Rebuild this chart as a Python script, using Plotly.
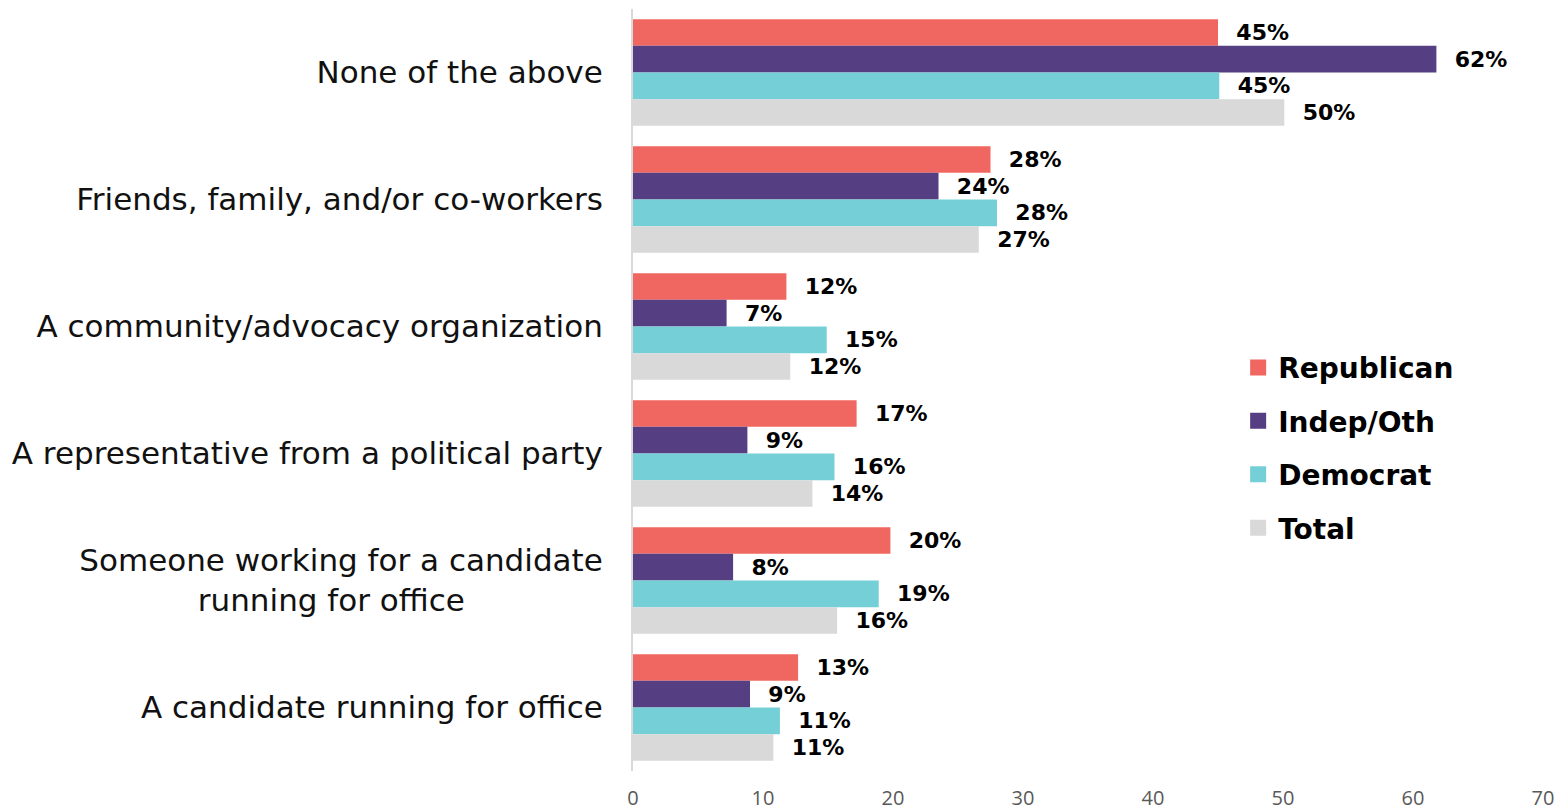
import plotly.graph_objects as go

# Categories (top to bottom) and series values
categories = [
    "None of the above",
    "Friends, family, and/or co-workers",
    "A community/advocacy organization",
    "A representative from a political party",
    "Someone working for a candidate<br>running for office" + "&nbsp;" * 14,
    "A candidate running for office",
]

republican = [45.0, 27.5, 11.8, 17.2, 19.8, 12.7]
indep_oth = [61.8, 23.5, 7.2, 8.8, 7.7, 9.0]
democrat = [45.1, 28.0, 14.9, 15.5, 18.9, 11.3]
total = [50.1, 26.6, 12.1, 13.8, 15.7, 10.8]

republican_lbl = ["45%", "28%", "12%", "17%", "20%", "13%"]
indep_oth_lbl = ["62%", "24%", "7%", "9%", "8%", "9%"]
democrat_lbl = ["45%", "28%", "15%", "16%", "19%", "11%"]
total_lbl = ["50%", "27%", "12%", "14%", "16%", "11%"]

series = [
    ("Republican", republican, republican_lbl, "#F06661"),
    ("Indep/Oth", indep_oth, indep_oth_lbl, "#553F82"),
    ("Democrat", democrat, democrat_lbl, "#74CFD6"),
    ("Total", total, total_lbl, "#D9D9D9"),
]

fig = go.Figure()
for name, vals, lbls, color in series:
    fig.add_trace(
        go.Bar(
            y=categories,
            x=vals,
            name=name,
            orientation="h",
            marker_color=color,
            marker_line_width=0,
            text=["&nbsp;&nbsp;" + t for t in lbls],
            textposition="outside",
            textfont=dict(family="DejaVu Sans", size=22, color="#000000", weight="bold"),
            cliponaxis=False,
            showlegend=False,
        )
    )

# legend-only entries so the swatches can be bigger squares
for name, vals, lbls, color in series:
    fig.add_trace(
        go.Scatter(
            x=[None],
            y=[None],
            mode="markers",
            name=name,
            marker=dict(symbol="square", size=16, color=color),
            legendgroup=name,
        )
    )

fig.update_layout(
    width=1555,
    height=812,
    barmode="group",
    bargap=0.16,
    bargroupgap=0,
    plot_bgcolor="white",
    paper_bgcolor="white",
    margin=dict(l=633, r=12, t=9, b=41, autoexpand=False),
    font=dict(family="DejaVu Sans", color="#000000"),
    legend=dict(
        x=0.665,
        y=0.562,
        xanchor="left",
        yanchor="top",
        font=dict(family="DejaVu Sans", size=28, color="#000000", weight="bold"),
        tracegroupgap=14,
        traceorder="grouped",
        itemsizing="trace",
        bgcolor="rgba(0,0,0,0)",
    ),
    xaxis=dict(
        range=[0, 70],
        dtick=10,
        showgrid=False,
        zeroline=False,
        showline=False,
        automargin=False,
        tickfont=dict(family="Open Sans", size=20, color="#595959"),
        ticklabelstandoff=13,
    ),
    yaxis=dict(
        autorange="reversed",
        showgrid=False,
        showline=True,
        automargin=False,
        linecolor="#D9D9D9",
        linewidth=2,
        tickfont=dict(family="DejaVu Sans", size=31, color="#111111"),
        ticklabelstandoff=22,
    ),
)

fig.write_html(
    "out.html",
    config={"displayModeBar": False},
    post_script="document.body.style.margin='0';",
)
